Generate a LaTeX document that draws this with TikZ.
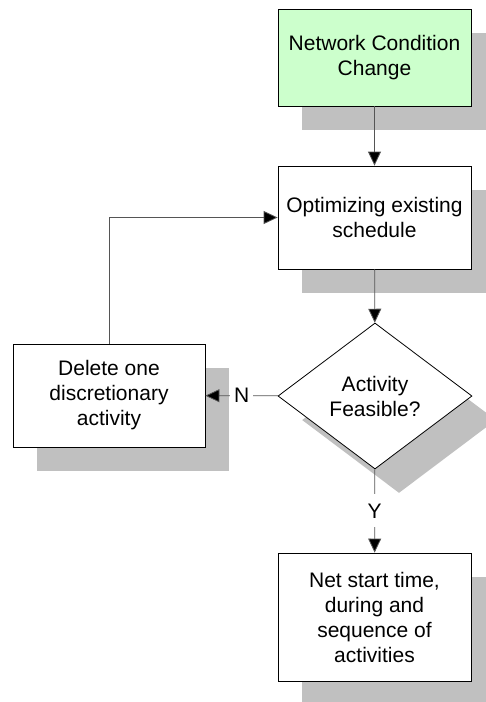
\documentclass[tikz,border=0pt]{standalone}
\usepackage{fontspec}
\setmainfont{Liberation Sans}
\usetikzlibrary{arrows.meta,shapes.geometric,shadows}
\definecolor{boxgreen}{HTML}{CCFFCC}
\definecolor{shadowgray}{HTML}{C0C0C0}
\definecolor{linegray}{HTML}{555555}

\begin{document}
\begin{tikzpicture}[x=1pt, y=-1pt,
    every node/.style={font=\fontsize{21}{25}\selectfont, align=center},
    shade box/.style={draw=black, fill=white, line width=0.8pt,
      drop shadow={shadow xshift=24pt, shadow yshift=-24pt, fill=shadowgray, opacity=1}},
    stepbox/.style={shade box, rectangle, minimum width=193pt},
    decision/.style={shade box, diamond, minimum width=194pt, minimum height=146pt,
      aspect=1.33, inner sep=0pt},
    conn/.style={draw=linegray, line width=0.8pt, -{Triangle[length=14pt,width=13pt,fill=black]}},
    lbl/.style={fill=white, inner sep=4pt}]
      \useasboundingbox (0, 0) rectangle (486, 702);
      \node[stepbox, fill=boxgreen, minimum height=97pt] (change) at (374.5, 57.5) {Network Condition\\Change};
      \node[stepbox, minimum height=103pt] (optim) at (374.5, 217.5) {Optimizing existing\\schedule};
      \node[decision] (feas) at (375, 396) {Activity\\Feasible?};
      \node[stepbox, minimum width=192pt, minimum height=103pt] (del) at (109, 395.5) {Delete one\\discretionary\\activity};
      \node[stepbox, minimum height=128pt] (net) at (374.5, 617) {Net start time,\\during and\\sequence of\\activities};
      \draw[conn] (change) -- (optim);
      \draw[conn] (optim) -- (feas);
      \draw[conn] (feas) -- node[lbl] {N} (del);
      \draw[conn] (feas) -- node[lbl, inner sep=0pt, minimum height=33pt] {Y} (net);
      \draw[conn] (del.north) |- (optim.west);
    \end{tikzpicture}
\end{document}
